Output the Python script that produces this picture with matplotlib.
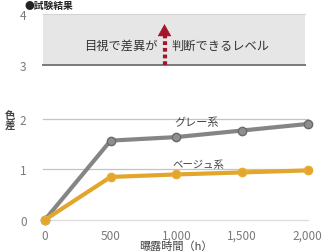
import matplotlib
matplotlib.use("Agg")
import matplotlib.pyplot as plt

plt.rcParams['font.family'] = ['Noto Sans CJK JP', 'DejaVu Sans']

# data
hours = [0, 500, 1000, 1500, 2000]
gray_vals = [0.0, 1.57, 1.64, 1.77, 1.90]
beige_vals = [0.0, 0.85, 0.90, 0.94, 0.98]
xtick_vals = [0, 500, 1000, 1500, 2000]
xtick_labels = ["0", "500", "1,000", "1,500", "2,000"]

gray_c = "#858585"
beige_c = "#e2a62c"
tick_c = "#7a7a7a"
arrow_c = "#a3152a"

fig = plt.figure(figsize=(3.29, 2.53), dpi=100)
ax_top = fig.add_axes([0.106, 0.723, 0.86, 0.237])
ax = fig.add_axes([0.106, 0.107, 0.86, 0.451])

xlim = (-76, 2076)

# top panel: visible difference band
ax_top.set_xlim(*xlim)
ax_top.set_ylim(2.92, 4.1)
ax_top.fill_between([-15, 1980], 3, 4, color="#e6e6e6", lw=0)
ax_top.plot([-15, 1980], [3, 3], color="#7a7a7a", lw=1.4)
ax_top.plot([-15, 1980], [4, 4], color="#d4d4d4", lw=0.8)
# dotted shaft + solid head
ax_top.plot([910, 910], [3.0, 3.66], color=arrow_c, lw=3, ls=(0, (0.9, 0.7)),
            solid_capstyle="butt", dash_capstyle="butt")
ax_top.annotate("", xy=(910, 3.86), xytext=(910, 3.64),
                arrowprops=dict(arrowstyle="-|>,head_width=0.45,head_length=0.8",
                                color=arrow_c, lw=0.5))
ax_top.text(855, 3.39, "目視で差異が", ha="right", va="center", fontsize=8.8, color="#333333")
ax_top.text(965, 3.39, "判断できるレベル", ha="left", va="center", fontsize=8.8, color="#333333")
ax_top.set_yticks([3, 4])
ax_top.set_yticklabels(["3", "4"])
ax_top.set_xticks([])

# bottom panel: colour difference curves
ax.set_xlim(*xlim)
ax.set_ylim(-0.1, 2.16)
for yv, c in [(2, "#c4c4c4"), (1, "#c4c4c4"), (0, "#dcdcdc")]:
    ax.plot([-15, 2000], [yv, yv], color=c, lw=0.9, zorder=1)

ax.plot(hours, gray_vals, color=gray_c, lw=3, marker="o", ms=6,
        mfc="#8e8e8e", mec="#6a6a6a", mew=1, zorder=3)
ax.plot(hours, beige_vals, color=beige_c, lw=3, marker="o", ms=6,
        mfc=beige_c, mec="#e6ad3a", mew=1, zorder=4)

ax.text(1156, 1.94, "グレー系", ha="center", va="center", fontsize=8, color="#444444")
ax.text(1170, 1.11, "ベージュ系", ha="center", va="center", fontsize=7.5, color="#444444")

ax.set_yticks([0, 1, 2])
ax.set_yticklabels(["0", "1", "2"])
ax.set_xticks(xtick_vals)
ax.set_xticklabels(xtick_labels)
ax.set_xlabel("曝露時間（h）", fontsize=8, color="#444444", labelpad=-1)

for a in (ax_top, ax):
    for s in a.spines.values():
        s.set_visible(False)
    a.tick_params(length=0, labelsize=8.5, colors=tick_c, pad=3)
    a.tick_params(axis="y", pad=6)
    a.patch.set_alpha(0)

fig.text(0.03, 0.52, "色\n差", fontsize=7.5, fontweight="bold", color="#444444",
         ha="center", va="center", linespacing=1.0)
fig.text(0.075, 0.998, "●試験結果", fontsize=7, fontweight="bold", color="#222222",
         ha="left", va="top")

fig.savefig("out.png", dpi=100)
